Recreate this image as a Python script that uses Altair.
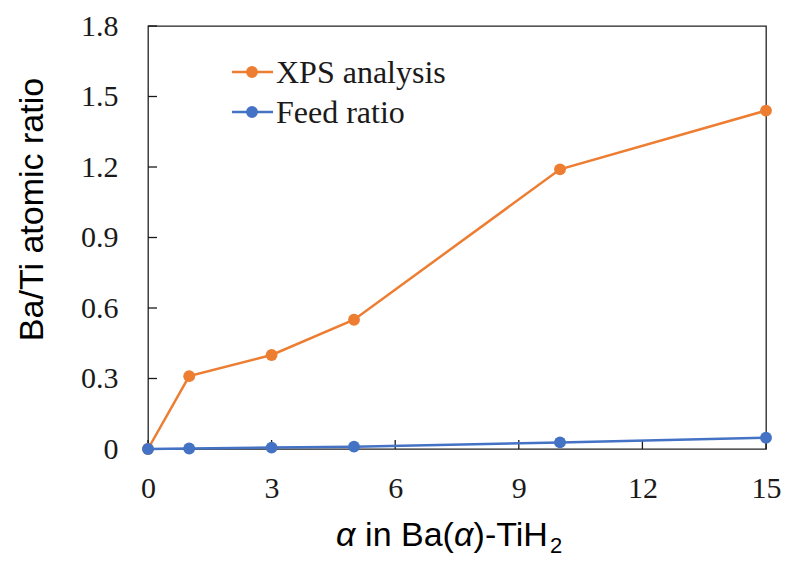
import altair as alt
import pandas as pd

# ---- data ----
alpha = [0, 1, 3, 5, 10, 15]
xps = [0.0, 0.31, 0.40, 0.55, 1.19, 1.44]
feed = [0.0, 0.002, 0.006, 0.010, 0.028, 0.048]
series_names = ["XPS analysis", "Feed ratio"]
series_colors = ["#ED7D31", "#4472C4"]
x_ticks = [0, 3, 6, 9, 12, 15]
y_ticks = [0, 0.3, 0.6, 0.9, 1.2, 1.5, 1.8]

# ---- layout ----
W, H = 618, 423
PAD = {"left": 148, "top": 26, "right": 21, "bottom": 113}
SERIF = "Liberation Serif"
SANS = "Liberation Sans"
INK = "#1a1a1a"

xscale = alt.Scale(domain=[0, 15], nice=False, zero=False)
yscale = alt.Scale(domain=[0, 1.8], nice=False)

xaxis = alt.Axis(values=x_ticks, title=None, grid=False, ticks=False, domain=False,
                 labelFont=SERIF, labelFontSize=30, labelColor=INK, labelPadding=24,
                 labelFlush=False, labelOverlap=False)
yaxis = alt.Axis(values=y_ticks, grid=False, ticks=False, domain=False,
                 labelFont=SERIF, labelFontSize=30, labelColor=INK, labelPadding=30,
                 labelExpr="datum.value == 0 ? '0' : format(datum.value, '.1f')",
                 labelOverlap=False, labelFlush=False,
                 title="Ba/Ti atomic ratio", titleFont=SANS, titleFontSize=34,
                 titleFontWeight="normal", titleColor="#000", titleAngle=-90,
                 titleX=-106, titleY=183, titleAlign="center", titleBaseline="alphabetic")

layers = []

# inward tick marks
ytick_df = pd.DataFrame({"v": y_ticks})
xtick_df = pd.DataFrame({"v": x_ticks})
layers.append(alt.Chart(ytick_df).mark_rule(color=INK, strokeWidth=1.3).encode(
    y=alt.Y("v:Q", scale=yscale, axis=yaxis), x=alt.value(0), x2=alt.value(9)))
layers.append(alt.Chart(xtick_df).mark_rule(color=INK, strokeWidth=1.3).encode(
    x=alt.X("v:Q", scale=xscale, axis=xaxis), y=alt.value(H), y2=alt.value(H - 9)))

# data series
for name, vals, col in zip(series_names, [xps, feed], series_colors):
    d = pd.DataFrame({"alpha": alpha, "ratio": vals, "series": name})
    enc = dict(x=alt.X("alpha:Q", scale=xscale, axis=xaxis),
               y=alt.Y("ratio:Q", scale=yscale, axis=yaxis))
    layers.append(alt.Chart(d).mark_line(color=col, strokeWidth=2.5).encode(**enc))
    layers.append(alt.Chart(d).mark_point(filled=True, color=col, size=140, opacity=1).encode(**enc))

# legend (manual, inside plot)
leg_y = [72 - PAD["top"], 112 - PAD["top"]]
for name, col, ly in zip(series_names, series_colors, leg_y):
    ldf = pd.DataFrame({"series": [name]})
    layers.append(alt.Chart(ldf).mark_rule(color=col, strokeWidth=2.5).encode(
        x=alt.value(232 - PAD["left"]), x2=alt.value(273 - PAD["left"]), y=alt.value(ly)))
    layers.append(alt.Chart(ldf).mark_point(filled=True, color=col, size=140, opacity=1).encode(
        x=alt.value(252 - PAD["left"]), y=alt.value(ly)))
    layers.append(alt.Chart(ldf).mark_text(align="left", baseline="middle", font=SERIF,
                                            fontSize=32, color=INK).encode(
        x=alt.value(276 - PAD["left"]), y=alt.value(ly + 1), text="series:N"))

# x-axis title with italic alpha and subscript 2
widths = {"α": 0.578, " ": 0.278, "i": 0.222, "n": 0.556, "B": 0.667, "a": 0.556,
          "(": 0.333, ")": 0.333, "-": 0.333, "T": 0.611, "H": 0.722}
FS = 34
pieces = [("α", "italic", 0.278), ("in Ba(", "normal", 0.0), ("α", "italic", 0.0),
          (")-TiH", "normal", 0.0)]
cx = 336 - PAD["left"]
base_y = 546 - PAD["top"]
for txt, style, gap_after in pieces:
    tdf = pd.DataFrame({"t": [txt]})
    layers.append(alt.Chart(tdf).mark_text(align="left", baseline="alphabetic", font=SANS,
                                            fontSize=FS, fontStyle=style, color="#000").encode(
        x=alt.value(cx), y=alt.value(base_y), text="t:N"))
    cx += (sum(widths[c] for c in txt) + gap_after) * FS
tdf = pd.DataFrame({"t": ["2"]})
layers.append(alt.Chart(tdf).mark_text(align="left", baseline="alphabetic", font=SANS,
                                        fontSize=22, color="#000").encode(
    x=alt.value(cx + 1), y=alt.value(base_y + 7), text="t:N"))

chart = alt.layer(*layers).properties(
    width=W, height=H,
    autosize=alt.AutoSizeParams(type="none"),
    padding=PAD,
    background="white",
).configure_view(stroke="#222", strokeWidth=1.3)

chart.save("out.html", embed_options={"renderer": "svg", "actions": False})
